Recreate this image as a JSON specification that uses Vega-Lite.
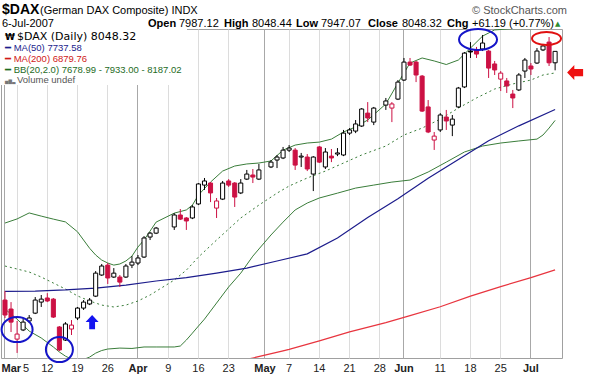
{
"$schema": "https://vega.github.io/schema/vega-lite/v6.json",
"width": 561,
"height": 329,
"autosize": {"type": "none"},
"padding": {"left": 1, "top": 29, "right": 39, "bottom": 18},
"background": "#ffffff",
"config": {"view": {"stroke": "#a0a0a0", "strokeWidth": 1}, "text": {"font": "Liberation Sans"}},
"datasets": {
"ohlc": [
{"d":"2007-03-01","o":6718,"h":6766,"l":6622,"c":6638},
{"d":"2007-03-02","o":6670,"h":6707,"l":6547,"c":6600},
{"d":"2007-03-05","o":6509,"h":6606,"l":6435,"c":6536},
{"d":"2007-03-06","o":6558,"h":6622,"l":6552,"c":6600},
{"d":"2007-03-07","o":6606,"h":6638,"l":6595,"c":6622},
{"d":"2007-03-08","o":6648,"h":6734,"l":6643,"c":6718},
{"d":"2007-03-09","o":6707,"h":6745,"l":6681,"c":6723},
{"d":"2007-03-12","o":6729,"h":6755,"l":6707,"c":6713},
{"d":"2007-03-13","o":6723,"h":6729,"l":6622,"c":6627},
{"d":"2007-03-14","o":6574,"h":6579,"l":6445,"c":6451},
{"d":"2007-03-15","o":6504,"h":6600,"l":6499,"c":6590},
{"d":"2007-03-16","o":6563,"h":6611,"l":6531,"c":6584},
{"d":"2007-03-19","o":6622,"h":6681,"l":6611,"c":6675},
{"d":"2007-03-20","o":6675,"h":6718,"l":6665,"c":6707},
{"d":"2007-03-21","o":6697,"h":6729,"l":6691,"c":6718},
{"d":"2007-03-22","o":6739,"h":6873,"l":6734,"c":6862},
{"d":"2007-03-23","o":6852,"h":6911,"l":6847,"c":6900},
{"d":"2007-03-26","o":6905,"h":6916,"l":6804,"c":6836},
{"d":"2007-03-27","o":6841,"h":6889,"l":6836,"c":6862},
{"d":"2007-03-28","o":6841,"h":6852,"l":6788,"c":6814},
{"d":"2007-03-29","o":6841,"h":6911,"l":6836,"c":6900},
{"d":"2007-03-30","o":6905,"h":6953,"l":6889,"c":6921},
{"d":"2007-04-02","o":6916,"h":6959,"l":6905,"c":6943},
{"d":"2007-04-03","o":6948,"h":7060,"l":6943,"c":7050},
{"d":"2007-04-04","o":7055,"h":7082,"l":7039,"c":7076},
{"d":"2007-04-05","o":7076,"h":7109,"l":7071,"c":7103},
{"d":"2007-04-10","o":7109,"h":7183,"l":7093,"c":7173},
{"d":"2007-04-11","o":7173,"h":7205,"l":7146,"c":7151},
{"d":"2007-04-12","o":7157,"h":7162,"l":7093,"c":7141},
{"d":"2007-04-13","o":7157,"h":7226,"l":7151,"c":7216},
{"d":"2007-04-16","o":7232,"h":7344,"l":7226,"c":7339},
{"d":"2007-04-17","o":7333,"h":7371,"l":7307,"c":7355},
{"d":"2007-04-18","o":7344,"h":7349,"l":7242,"c":7291},
{"d":"2007-04-19","o":7210,"h":7264,"l":7157,"c":7248},
{"d":"2007-04-20","o":7258,"h":7355,"l":7253,"c":7344},
{"d":"2007-04-23","o":7355,"h":7365,"l":7323,"c":7333},
{"d":"2007-04-24","o":7344,"h":7349,"l":7216,"c":7269},
{"d":"2007-04-25","o":7291,"h":7365,"l":7285,"c":7344},
{"d":"2007-04-26","o":7365,"h":7414,"l":7360,"c":7392},
{"d":"2007-04-27","o":7387,"h":7419,"l":7344,"c":7376},
{"d":"2007-04-30","o":7365,"h":7446,"l":7360,"c":7414},
{"d":"2007-05-02","o":7430,"h":7467,"l":7424,"c":7456},
{"d":"2007-05-03","o":7467,"h":7494,"l":7424,"c":7483},
{"d":"2007-05-04","o":7478,"h":7537,"l":7472,"c":7520},
{"d":"2007-05-07","o":7520,"h":7547,"l":7510,"c":7531},
{"d":"2007-05-08","o":7520,"h":7531,"l":7414,"c":7440},
{"d":"2007-05-09","o":7483,"h":7505,"l":7430,"c":7488},
{"d":"2007-05-10","o":7483,"h":7499,"l":7408,"c":7419},
{"d":"2007-05-11","o":7392,"h":7488,"l":7301,"c":7483},
{"d":"2007-05-14","o":7537,"h":7542,"l":7451,"c":7456},
{"d":"2007-05-15","o":7430,"h":7531,"l":7419,"c":7510},
{"d":"2007-05-16","o":7488,"h":7526,"l":7456,"c":7478},
{"d":"2007-05-17","o":7499,"h":7531,"l":7488,"c":7505},
{"d":"2007-05-18","o":7494,"h":7628,"l":7488,"c":7611},
{"d":"2007-05-21","o":7611,"h":7638,"l":7601,"c":7628},
{"d":"2007-05-22","o":7622,"h":7681,"l":7611,"c":7660},
{"d":"2007-05-23","o":7649,"h":7745,"l":7644,"c":7740},
{"d":"2007-05-24","o":7718,"h":7777,"l":7670,"c":7692},
{"d":"2007-05-25","o":7670,"h":7751,"l":7654,"c":7745},
{"d":"2007-05-29","o":7761,"h":7799,"l":7735,"c":7783},
{"d":"2007-05-30","o":7745,"h":7777,"l":7670,"c":7767},
{"d":"2007-05-31","o":7793,"h":7895,"l":7788,"c":7884},
{"d":"2007-06-01","o":7895,"h":8013,"l":7890,"c":7991},
{"d":"2007-06-04","o":7991,"h":8013,"l":7970,"c":7975},
{"d":"2007-06-05","o":7991,"h":7997,"l":7884,"c":7922},
{"d":"2007-06-06","o":7916,"h":7922,"l":7724,"c":7729},
{"d":"2007-06-07","o":7751,"h":7788,"l":7611,"c":7617},
{"d":"2007-06-08","o":7574,"h":7617,"l":7521,"c":7595},
{"d":"2007-06-11","o":7628,"h":7718,"l":7617,"c":7708},
{"d":"2007-06-12","o":7697,"h":7735,"l":7628,"c":7676},
{"d":"2007-06-13","o":7654,"h":7708,"l":7595,"c":7686},
{"d":"2007-06-14","o":7751,"h":7858,"l":7745,"c":7852},
{"d":"2007-06-15","o":7858,"h":8045,"l":7852,"c":8039},
{"d":"2007-06-18","o":8050,"h":8098,"l":8013,"c":8045},
{"d":"2007-06-19","o":8056,"h":8072,"l":8013,"c":8034},
{"d":"2007-06-20","o":8061,"h":8136,"l":8050,"c":8093},
{"d":"2007-06-21","o":8050,"h":8056,"l":7906,"c":7959},
{"d":"2007-06-22","o":7981,"h":7997,"l":7922,"c":7949},
{"d":"2007-06-25","o":7900,"h":7943,"l":7836,"c":7932},
{"d":"2007-06-26","o":7890,"h":7906,"l":7826,"c":7863},
{"d":"2007-06-27","o":7820,"h":7842,"l":7745,"c":7799},
{"d":"2007-06-28","o":7842,"h":7932,"l":7836,"c":7922},
{"d":"2007-06-29","o":7943,"h":8013,"l":7906,"c":8002},
{"d":"2007-07-02","o":7970,"h":7986,"l":7922,"c":7954},
{"d":"2007-07-03","o":7986,"h":8066,"l":7981,"c":8050},
{"d":"2007-07-04","o":8056,"h":8088,"l":8050,"c":8077},
{"d":"2007-07-05","o":8098,"h":8125,"l":7970,"c":7987.13},
{"d":"2007-07-06","o":7987.12,"h":8048.44,"l":7947.07,"c":8048.32}
],
"ma50": [
{"d":"2007-03-01","v":6764},{"d":"2007-03-08","v":6766},{"d":"2007-03-15","v":6772},{"d":"2007-03-22","v":6782},
{"d":"2007-03-29","v":6798},{"d":"2007-04-05","v":6820},{"d":"2007-04-12","v":6838},{"d":"2007-04-19","v":6862},
{"d":"2007-04-26","v":6889},{"d":"2007-05-03","v":6927},{"d":"2007-05-10","v":6965},{"d":"2007-05-17","v":7050},
{"d":"2007-05-24","v":7160},{"d":"2007-05-31","v":7260},{"d":"2007-06-07","v":7370},{"d":"2007-06-14","v":7470},
{"d":"2007-06-21","v":7570},{"d":"2007-06-28","v":7650},{"d":"2007-07-06","v":7737.58}
],
"ma200": [
{"d":"2007-04-23","v":6380},{"d":"2007-04-27","v":6408},{"d":"2007-05-04","v":6446},{"d":"2007-05-07","v":6454},
{"d":"2007-05-14","v":6500},{"d":"2007-05-21","v":6548},{"d":"2007-05-29","v":6597},{"d":"2007-06-04","v":6635},
{"d":"2007-06-11","v":6682},{"d":"2007-06-18","v":6739},{"d":"2007-06-25","v":6790},{"d":"2007-07-02","v":6838},
{"d":"2007-07-06","v":6879.76}
],
"bbu": [
{"d":"2007-03-01","v":7130},{"d":"2007-03-05","v":7152},{"d":"2007-03-07","v":7184},{"d":"2007-03-09","v":7167},
{"d":"2007-03-13","v":7151},{"d":"2007-03-15","v":7136},{"d":"2007-03-19","v":7083},{"d":"2007-03-21","v":6995},
{"d":"2007-03-22","v":6959},{"d":"2007-03-23","v":6932},{"d":"2007-03-26","v":6916},{"d":"2007-03-27","v":6905},
{"d":"2007-03-28","v":6911},{"d":"2007-03-29","v":6927},{"d":"2007-03-30","v":6953},{"d":"2007-04-02","v":7002},
{"d":"2007-04-03","v":7039},{"d":"2007-04-04","v":7087},{"d":"2007-04-05","v":7135},{"d":"2007-04-10","v":7183},
{"d":"2007-04-12","v":7200},{"d":"2007-04-13","v":7226},{"d":"2007-04-16","v":7280},{"d":"2007-04-18","v":7349},
{"d":"2007-04-20","v":7408},{"d":"2007-04-24","v":7435},{"d":"2007-04-26","v":7446},{"d":"2007-04-30","v":7451},
{"d":"2007-05-02","v":7462},{"d":"2007-05-04","v":7520},{"d":"2007-05-08","v":7547},{"d":"2007-05-10","v":7558},
{"d":"2007-05-14","v":7563},{"d":"2007-05-16","v":7579},{"d":"2007-05-18","v":7617},{"d":"2007-05-22","v":7644},
{"d":"2007-05-24","v":7681},{"d":"2007-05-29","v":7767},{"d":"2007-05-31","v":7879},{"d":"2007-06-04","v":7986},
{"d":"2007-06-06","v":8013},{"d":"2007-06-08","v":7997},{"d":"2007-06-12","v":7978},{"d":"2007-06-14","v":8002},
{"d":"2007-06-18","v":8066},{"d":"2007-06-20","v":8130},{"d":"2007-06-22","v":8163},{"d":"2007-06-27","v":8170},
{"d":"2007-07-02","v":8170},{"d":"2007-07-04","v":8178},{"d":"2007-07-06","v":8187.02}
],
"bbm": [
{"d":"2007-03-01","v":6900},{"d":"2007-03-05","v":6884},{"d":"2007-03-07","v":6868},{"d":"2007-03-09","v":6841},
{"d":"2007-03-13","v":6809},{"d":"2007-03-15","v":6777},{"d":"2007-03-19","v":6740},{"d":"2007-03-21","v":6713},
{"d":"2007-03-23","v":6691},{"d":"2007-03-27","v":6681},{"d":"2007-03-29","v":6691},{"d":"2007-04-02","v":6713},
{"d":"2007-04-04","v":6745},{"d":"2007-04-10","v":6825},{"d":"2007-04-12","v":6878},{"d":"2007-04-16","v":6948},
{"d":"2007-04-19","v":7039},{"d":"2007-04-23","v":7098},{"d":"2007-04-25","v":7157},{"d":"2007-04-30","v":7226},
{"d":"2007-05-03","v":7290},{"d":"2007-05-07","v":7328},{"d":"2007-05-10","v":7371},{"d":"2007-05-15","v":7408},
{"d":"2007-05-18","v":7451},{"d":"2007-05-23","v":7494},{"d":"2007-05-29","v":7542},{"d":"2007-06-01","v":7601},
{"d":"2007-06-06","v":7638},{"d":"2007-06-11","v":7686},{"d":"2007-06-14","v":7745},{"d":"2007-06-19","v":7799},
{"d":"2007-06-22","v":7847},{"d":"2007-06-27","v":7874},{"d":"2007-07-02","v":7895},{"d":"2007-07-04","v":7922},
{"d":"2007-07-06","v":7933}
],
"bbl": [
{"d":"2007-03-01","v":6670},{"d":"2007-03-05","v":6616},{"d":"2007-03-07","v":6552},{"d":"2007-03-09","v":6515},
{"d":"2007-03-13","v":6467},{"d":"2007-03-14","v":6440},{"d":"2007-03-15","v":6418},{"d":"2007-03-16","v":6402},
{"d":"2007-03-19","v":6397},{"d":"2007-03-20","v":6400},{"d":"2007-03-21","v":6413},{"d":"2007-03-22","v":6434},
{"d":"2007-03-23","v":6448},{"d":"2007-03-26","v":6456},{"d":"2007-03-28","v":6461},{"d":"2007-03-30","v":6459},
{"d":"2007-04-03","v":6467},{"d":"2007-04-05","v":6467},{"d":"2007-04-10","v":6467},{"d":"2007-04-11","v":6472},
{"d":"2007-04-12","v":6504},{"d":"2007-04-13","v":6541},{"d":"2007-04-16","v":6579},{"d":"2007-04-17","v":6616},
{"d":"2007-04-18","v":6659},{"d":"2007-04-19","v":6702},{"d":"2007-04-23","v":6788},{"d":"2007-04-25","v":6862},
{"d":"2007-04-27","v":6953},{"d":"2007-04-30","v":6991},{"d":"2007-05-02","v":7066},{"d":"2007-05-04","v":7135},
{"d":"2007-05-08","v":7200},{"d":"2007-05-10","v":7237},{"d":"2007-05-14","v":7264},{"d":"2007-05-17","v":7290},
{"d":"2007-05-22","v":7317},{"d":"2007-05-25","v":7333},{"d":"2007-05-30","v":7349},{"d":"2007-06-04","v":7360},
{"d":"2007-06-07","v":7403},{"d":"2007-06-12","v":7456},{"d":"2007-06-15","v":7510},{"d":"2007-06-20","v":7542},
{"d":"2007-06-25","v":7558},{"d":"2007-06-28","v":7569},{"d":"2007-07-03","v":7579},{"d":"2007-07-04","v":7601},
{"d":"2007-07-05","v":7638},{"d":"2007-07-06","v":7678.99}
]
},
"encoding": {
"x": {
"field": "d", "type": "ordinal", "title": null,
"scale": {"type": "band", "paddingInner": 0.33, "paddingOuter": 0.565, "align": 0.288,
"domain": ["2007-03-01","2007-03-02","2007-03-05","2007-03-06","2007-03-07","2007-03-08","2007-03-09","2007-03-12","2007-03-13","2007-03-14","2007-03-15","2007-03-16","2007-03-19","2007-03-20","2007-03-21","2007-03-22","2007-03-23","2007-03-26","2007-03-27","2007-03-28","2007-03-29","2007-03-30",
"2007-04-02","2007-04-03","2007-04-04","2007-04-05","2007-04-06","2007-04-09","2007-04-10","2007-04-11","2007-04-12","2007-04-13","2007-04-16","2007-04-17","2007-04-18","2007-04-19","2007-04-20","2007-04-23","2007-04-24","2007-04-25","2007-04-26","2007-04-27","2007-04-30",
"2007-05-01","2007-05-02","2007-05-03","2007-05-04","2007-05-07","2007-05-08","2007-05-09","2007-05-10","2007-05-11","2007-05-14","2007-05-15","2007-05-16","2007-05-17","2007-05-18","2007-05-21","2007-05-22","2007-05-23","2007-05-24","2007-05-25","2007-05-28","2007-05-29","2007-05-30","2007-05-31",
"2007-06-01","2007-06-04","2007-06-05","2007-06-06","2007-06-07","2007-06-08","2007-06-11","2007-06-12","2007-06-13","2007-06-14","2007-06-15","2007-06-18","2007-06-19","2007-06-20","2007-06-21","2007-06-22","2007-06-25","2007-06-26","2007-06-27","2007-06-28","2007-06-29",
"2007-07-02","2007-07-03","2007-07-04","2007-07-05","2007-07-06"]},
"axis": {
"values": ["2007-03-01","2007-03-05","2007-03-12","2007-03-19","2007-03-26","2007-04-02","2007-04-09","2007-04-16","2007-04-23","2007-05-01","2007-05-07","2007-05-14","2007-05-21","2007-05-28","2007-06-01","2007-06-11","2007-06-18","2007-06-25","2007-07-02"],
"labelExpr": "datum.value == '2007-03-01' ? 'Mar' : datum.value == '2007-04-02' ? 'Apr' : datum.value == '2007-05-01' ? 'May' : datum.value == '2007-06-01' ? 'Jun' : datum.value == '2007-07-02' ? 'Jul' : '' + toNumber(slice(datum.value, 8))",
"labelFontWeight": {"condition": {"test": "indexof(['2007-03-01','2007-04-02','2007-05-01','2007-06-01','2007-07-02'], datum.value) >= 0", "value": "bold"}, "value": "normal"},
"labelAlign": {"condition": {"test": "datum.value == '2007-03-01'", "value": "left"}, "value": "center"},
"labelOffset": {"condition": [{"test": "datum.value == '2007-03-01'", "value": -3.5}, {"test": "datum.value == '2007-03-05'", "value": 9}], "value": 0},
"gridColor": {"condition": {"test": "indexof(['2007-03-01','2007-04-02','2007-05-01','2007-06-01','2007-07-02'], datum.value) >= 0", "value": "#a8a8a8"}, "value": "#dcdcdc"},
"grid": true, "ticks": false, "domain": false, "labelAngle": 0, "labelFont": "Liberation Sans", "labelFontSize": 11,
"labelColor": "#222222", "labelPadding": 4, "labelOverlap": false, "labelFlush": false, "bandPosition": 0.5, "title": null
}
}
},
"layer": [
{"data": {"name": "bbu"}, "mark": {"type": "line", "color": "#3a7d3a", "strokeWidth": 1, "clip": true},
 "encoding": {"y": {"field": "v", "type": "quantitative", "title": null, "scale": {"domain": [6408, 8168], "nice": false, "zero": false},
 "axis": {"orient": "right", "values": [6500,6600,6700,6800,6900,7000,7100,7200,7300,7400,7500,7600,7700,7800,7900,8000,8100], "format": "d", "grid": true, "gridColor": "#dcdcdc", "ticks": false, "domain": false, "labelFont": "Liberation Sans", "labelFontSize": 11, "labelColor": "#222222", "labelPadding": 4, "title": null}}}},
{"data": {"name": "bbl"}, "mark": {"type": "line", "color": "#3a7d3a", "strokeWidth": 1, "clip": true},
 "encoding": {"y": {"field": "v", "type": "quantitative", "title": null, "scale": {"domain": [6408, 8168], "nice": false, "zero": false}, "axis": null}}},
{"data": {"name": "bbm"}, "mark": {"type": "line", "color": "#3a7d3a", "strokeWidth": 1, "strokeDash": [2, 3], "clip": true},
 "encoding": {"y": {"field": "v", "type": "quantitative", "title": null, "scale": {"domain": [6408, 8168], "nice": false, "zero": false}, "axis": null}}},
{"data": {"name": "ma200"}, "mark": {"type": "line", "color": "#e8353f", "strokeWidth": 1.2, "clip": true},
 "encoding": {"y": {"field": "v", "type": "quantitative", "title": null, "scale": {"domain": [6408, 8168], "nice": false, "zero": false}, "axis": null}}},
{"data": {"name": "ma50"}, "mark": {"type": "line", "color": "#1c1c8c", "strokeWidth": 1.2, "clip": true},
 "encoding": {"y": {"field": "v", "type": "quantitative", "title": null, "scale": {"domain": [6408, 8168], "nice": false, "zero": false}, "axis": null}}},
{"data": {"name": "ohlc"},
 "transform": [{"window": [{"op": "lag", "field": "c", "as": "pc"}], "sort": [{"field": "d", "order": "ascending"}]}],
 "layer": [
  {"mark": {"type": "rule", "strokeWidth": 1},
   "encoding": {
    "y": {"field": "l", "type": "quantitative", "title": null, "scale": {"domain": [6408, 8168], "nice": false, "zero": false}, "axis": null},
    "y2": {"field": "h"},
    "color": {"condition": {"test": "(datum.pc != null && datum.c < datum.pc) || (datum.pc == null && datum.c < datum.o)", "value": "#cc1144"}, "value": "#000000"}}},
  {"mark": {"type": "bar", "strokeWidth": 1},
   "encoding": {
    "y": {"field": "o", "type": "quantitative", "title": null, "scale": {"domain": [6408, 8168], "nice": false, "zero": false}, "axis": null},
    "y2": {"field": "c"},
    "stroke": {"condition": {"test": "(datum.pc != null && datum.c < datum.pc) || (datum.pc == null && datum.c < datum.o)", "value": "#cc1144"}, "value": "#000000"},
    "fill": {"condition": [{"test": "datum.c >= datum.o", "value": "#ffffff"}, {"test": "(datum.pc != null && datum.c < datum.pc) || (datum.pc == null && datum.c < datum.o)", "value": "#cc1144"}], "value": "#000000"}}}
 ]},
{"data": {"values": [{"d": "2007-03-05", "v": 6560}]},
 "mark": {"type": "point", "shape": "M -1 0 A 1 0.806 0 1 1 1 0 A 1 0.806 0 1 1 -1 0 Z", "size": 961, "filled": false, "color": "#1414c8", "strokeWidth": 2, "opacity": 1, "clip": false},
 "encoding": {"y": {"field": "v", "type": "quantitative", "title": null, "scale": {"domain": [6408, 8168], "nice": false, "zero": false}, "axis": null}}},
{"data": {"values": [{"d": "2007-03-14", "v": 6453}]},
 "mark": {"type": "point", "shape": "M -1 0 A 1 0.926 0 1 1 1 0 A 1 0.926 0 1 1 -1 0 Z", "size": 729, "filled": false, "color": "#1414c8", "strokeWidth": 2, "opacity": 1, "clip": false},
 "encoding": {"y": {"field": "v", "type": "quantitative", "title": null, "scale": {"domain": [6408, 8168], "nice": false, "zero": false}, "axis": null}}},
{"data": {"values": [{"d": "2007-06-19", "v": 8112}]},
 "mark": {"type": "point", "shape": "M -1 0 A 1 0.553 0 1 1 1 0 A 1 0.553 0 1 1 -1 0 Z", "size": 1444, "filled": false, "color": "#1414c8", "strokeWidth": 2, "opacity": 1, "clip": false, "xOffset": 1.5},
 "encoding": {"y": {"field": "v", "type": "quantitative", "title": null, "scale": {"domain": [6408, 8168], "nice": false, "zero": false}, "axis": null}}},
{"data": {"values": [{"d": "2007-07-04", "v": 8117}]},
 "mark": {"type": "point", "shape": "M -1 0 A 1 0.448 0 1 1 1 0 A 1 0.448 0 1 1 -1 0 Z", "size": 841, "filled": false, "color": "#e01010", "strokeWidth": 2, "opacity": 1, "clip": false, "xOffset": 3.5},
 "encoding": {"y": {"field": "v", "type": "quantitative", "title": null, "scale": {"domain": [6408, 8168], "nice": false, "zero": false}, "axis": null}}},
{"data": {"values": [{"d": "2007-03-21", "v": 6600}]},
 "mark": {"type": "point", "shape": "M 0 -1.08 L 1 0 L 0.45 0 L 0.45 1.08 L -0.45 1.08 L -0.45 0 L -1 0 Z", "size": 169, "filled": true, "color": "#1414f0", "opacity": 1, "strokeWidth": 0, "clip": false, "xOffset": 2.5},
 "encoding": {"y": {"field": "v", "type": "quantitative", "title": null, "scale": {"domain": [6408, 8168], "nice": false, "zero": false}, "axis": null}}},
{"data": {"values": [{"d": "2007-07-06", "v": 7935}]},
 "mark": {"type": "point", "shape": "M -1 0 L -0.1 -0.94 L -0.1 -0.45 L 1 -0.45 L 1 0.45 L -0.1 0.45 L -0.1 0.94 Z", "size": 256, "filled": true, "color": "#ee1111", "opacity": 1, "strokeWidth": 0, "clip": false, "xOffset": 20},
 "encoding": {"y": {"field": "v", "type": "quantitative", "title": null, "scale": {"domain": [6408, 8168], "nice": false, "zero": false}, "axis": null}}},
{"data": {"values": [{}]}, "mark": {"type": "rect", "fill": "#ffffff"},
 "encoding": {"x": {"value": 0}, "x2": {"value": 186}, "y": {"value": 0}, "y2": {"value": 56}}},
{"data": {"values": [{}]}, "mark": {"type": "text", "text": "₩", "align": "left", "baseline": "alphabetic", "font": "DejaVu Sans", "fontSize": 9, "fontWeight": "bold", "fill": "#000000"},
 "encoding": {"x": {"value": 4}, "y": {"value": 11}}},
{"data": {"values": [{}]}, "mark": {"type": "text", "text": "$DAX (Daily) 8048.32", "align": "left", "baseline": "alphabetic", "font": "DejaVu Sans", "fontSize": 11, "fill": "#000000"},
 "encoding": {"x": {"value": 16}, "y": {"value": 11}}},
{"data": {"values": [{}]}, "mark": {"type": "text", "text": "━ MA(50) 7737.58", "align": "left", "baseline": "alphabetic", "font": "Liberation Sans", "fontSize": 9.5, "fill": "#1c1c8c"},
 "encoding": {"x": {"value": 4}, "y": {"value": 22}}},
{"data": {"values": [{}]}, "mark": {"type": "text", "text": "━ MA(200) 6879.76", "align": "left", "baseline": "alphabetic", "font": "Liberation Sans", "fontSize": 9.5, "fill": "#d01818"},
 "encoding": {"x": {"value": 4}, "y": {"value": 33}}},
{"data": {"values": [{}]}, "mark": {"type": "text", "text": "━ BB(20,2.0) 7678.99 - 7933.00 - 8187.02", "align": "left", "baseline": "alphabetic", "font": "Liberation Sans", "fontSize": 9.5, "fill": "#1e6b1e"},
 "encoding": {"x": {"value": 4}, "y": {"value": 44}}},
{"data": {"values": [{}]}, "mark": {"type": "text", "text": "Volume undef", "align": "left", "baseline": "alphabetic", "font": "Liberation Sans", "fontSize": 9.5, "fill": "#555555"},
 "encoding": {"x": {"value": 16}, "y": {"value": 54}}},
{"data": {"values": [{}]}, "mark": {"type": "text", "text": "▅▇▃", "align": "left", "baseline": "alphabetic", "font": "DejaVu Sans", "fontSize": 4.5, "fill": "#777777"},
 "encoding": {"x": {"value": 4}, "y": {"value": 54}}},
{"data": {"values": [{}]}, "mark": {"type": "text", "text": "$DAX", "align": "left", "baseline": "alphabetic", "fontSize": 14, "fontWeight": "bold", "fill": "#000000"},
 "encoding": {"x": {"value": 1}, "y": {"value": -15}}},
{"data": {"values": [{}]}, "mark": {"type": "text", "text": "(German DAX Composite) INDX", "align": "left", "baseline": "alphabetic", "fontSize": 11, "fill": "#000000"},
 "encoding": {"x": {"value": 39}, "y": {"value": -15}}},
{"data": {"values": [{}]}, "mark": {"type": "text", "text": "6-Jul-2007", "align": "left", "baseline": "alphabetic", "fontSize": 11, "fill": "#000000"},
 "encoding": {"x": {"value": 1}, "y": {"value": -2}}},
{"data": {"values": [{}]}, "mark": {"type": "text", "text": "Open", "align": "left", "baseline": "alphabetic", "fontSize": 11, "fontWeight": "bold", "fill": "#000000"},
 "encoding": {"x": {"value": 147}, "y": {"value": -2}}},
{"data": {"values": [{}]}, "mark": {"type": "text", "text": "7987.12", "align": "left", "baseline": "alphabetic", "fontSize": 11, "fill": "#000000"},
 "encoding": {"x": {"value": 178}, "y": {"value": -2}}},
{"data": {"values": [{}]}, "mark": {"type": "text", "text": "High", "align": "left", "baseline": "alphabetic", "fontSize": 11, "fontWeight": "bold", "fill": "#000000"},
 "encoding": {"x": {"value": 223}, "y": {"value": -2}}},
{"data": {"values": [{}]}, "mark": {"type": "text", "text": "8048.44", "align": "left", "baseline": "alphabetic", "fontSize": 11, "fill": "#000000"},
 "encoding": {"x": {"value": 251}, "y": {"value": -2}}},
{"data": {"values": [{}]}, "mark": {"type": "text", "text": "Low", "align": "left", "baseline": "alphabetic", "fontSize": 11, "fontWeight": "bold", "fill": "#000000"},
 "encoding": {"x": {"value": 295}, "y": {"value": -2}}},
{"data": {"values": [{}]}, "mark": {"type": "text", "text": "7947.07", "align": "left", "baseline": "alphabetic", "fontSize": 11, "fill": "#000000"},
 "encoding": {"x": {"value": 320}, "y": {"value": -2}}},
{"data": {"values": [{}]}, "mark": {"type": "text", "text": "Close", "align": "left", "baseline": "alphabetic", "fontSize": 11, "fontWeight": "bold", "fill": "#000000"},
 "encoding": {"x": {"value": 367}, "y": {"value": -2}}},
{"data": {"values": [{}]}, "mark": {"type": "text", "text": "8048.32", "align": "left", "baseline": "alphabetic", "fontSize": 11, "fill": "#000000"},
 "encoding": {"x": {"value": 401}, "y": {"value": -2}}},
{"data": {"values": [{}]}, "mark": {"type": "text", "text": "Chg", "align": "left", "baseline": "alphabetic", "fontSize": 11, "fontWeight": "bold", "fill": "#000000"},
 "encoding": {"x": {"value": 446}, "y": {"value": -2}}},
{"data": {"values": [{}]}, "mark": {"type": "text", "text": "+61.19 (+0.77%)", "align": "left", "baseline": "alphabetic", "fontSize": 11, "fill": "#000000"},
 "encoding": {"x": {"value": 471}, "y": {"value": -2}}},
{"data": {"values": [{}]}, "mark": {"type": "text", "text": "▲", "align": "left", "baseline": "alphabetic", "font": "DejaVu Sans", "fontSize": 7, "fill": "#2e8b2e"},
 "encoding": {"x": {"value": 554}, "y": {"value": -3}}},
{"data": {"values": [{}]}, "mark": {"type": "text", "text": "© StockCharts.com", "align": "left", "baseline": "alphabetic", "fontSize": 11, "fill": "#555555"},
 "encoding": {"x": {"value": 471}, "y": {"value": -15}}}
]
}
